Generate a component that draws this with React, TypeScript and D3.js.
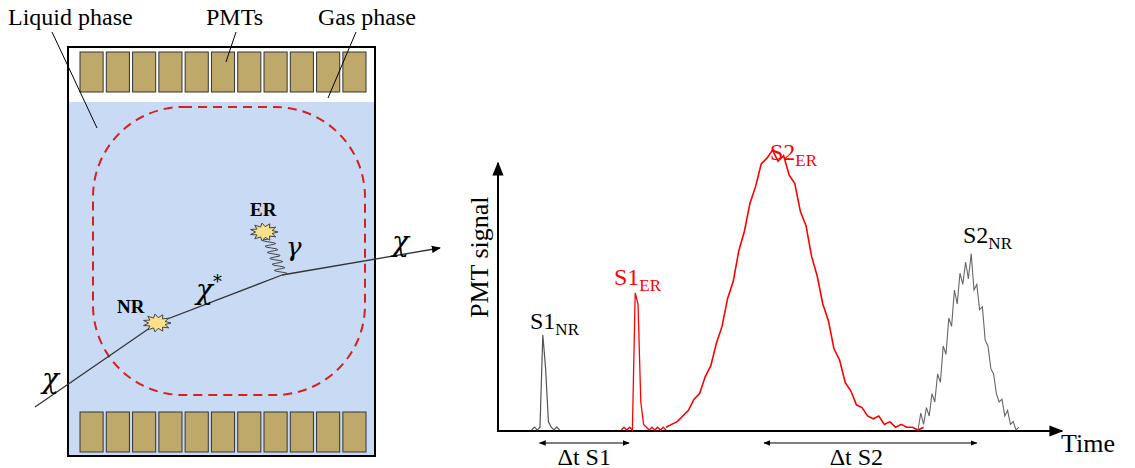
import * as d3 from "d3";
import React from "react";

// signal traces: values sampled every STEP (or STEP/2) time units from the given start time
const STEP = 1;
const s1nrStart = 6;
const s1nrValues = [0.0, 0.01, 0.0, 0.01, 0.34, 0.22, 0.03, 0.01, 0.0, 0.01, 0.0];
const s1erStart = 22;
const s1erValues = [0.0, 0.01, 0.0, 0.01, 0.0, 0.49, 0.45, 0.1, 0.02, 0.01, 0.0, 0.01, 0.0, 0.01, 0.0, 0.01, 0.0];
const s2erStart = 30;
const s2erValues = [
  0.01, 0.02, 0.03, 0.05, 0.07, 0.11, 0.13, 0.19, 0.23, 0.31, 0.37, 0.47, 0.53, 0.64, 0.71, 0.81,
  0.87, 0.95, 0.97, 1.0, 0.96, 0.98, 0.91, 0.88, 0.78, 0.73, 0.62, 0.55, 0.45, 0.39, 0.29, 0.25,
  0.17, 0.14, 0.09, 0.08, 0.05, 0.04, 0.05, 0.02, 0.03, 0.01, 0.02, 0.01, 0.01, 0.0, 0.01,
];
const s2nrStart = 75;
const s2nrValues = [
  0.0, 0.06, 0.02, 0.08, 0.05, 0.13, 0.1, 0.2, 0.17, 0.3, 0.27, 0.4, 0.37, 0.5, 0.45, 0.56, 0.52,
  0.6, 0.54, 0.63, 0.5, 0.52, 0.43, 0.44, 0.32, 0.3, 0.22, 0.2, 0.13, 0.1, 0.11, 0.05, 0.07, 0.02,
  0.03, 0.0, 0.01,
];
const pmtCount = 11;

const serif = "'Liberation Serif', 'DejaVu Serif', serif";
const greek = "'DejaVu Serif', serif";

function trace(start: number, values: number[], step = STEP) {
  return values.map((v, i) => [start + i * step, v] as [number, number]);
}

function star(cx: number, cy: number, rx: number, ry: number) {
  const pts: [number, number][] = [];
  const n = 22;
  for (let i = 0; i < n; i++) {
    const a = (i / n) * Math.PI * 2;
    const r = i % 2 === 0 ? 1 : 0.6;
    pts.push([cx + Math.cos(a) * rx * r, cy + Math.sin(a) * ry * r]);
  }
  return "M" + pts.map((p) => p.join(",")).join("L") + "Z";
}

export default function App() {
  const x = d3.scaleLinear().domain([0, 100]).range([498, 1058]);
  const y = d3.scaleLinear().domain([0, 1]).range([430, 150]);
  const line = d3
    .line<[number, number]>()
    .x((d) => x(d[0]))
    .y((d) => y(d[1]));

  const pmtX = d3.scaleBand<number>().domain(d3.range(pmtCount)).range([80, 366]).paddingInner(0.12);

  // wiggle for gamma
  const wig: [number, number][] = [];
  for (let i = 0; i <= 40; i++) {
    const t = i / 40;
    wig.push([282 - 14 * t + Math.sin(t * Math.PI * 12) * 6, 275 - 36 * t]);
  }

  return (
    <svg width={1135} height={468} style={{ position: "absolute", left: 0, top: 0 }} fontFamily={serif}>
      <defs>
        <marker id="ah" viewBox="0 0 10 10" refX="9" refY="5" markerWidth="7" markerHeight="7" orient="auto-start-reverse">
          <path d="M0,1L10,5L0,9Z" fill="#000" />
        </marker>
      </defs>
      {/* detector */}
      <rect x={68} y={102} width={307} height={354} fill="#c9daf5" />
      <rect x={68} y={47} width={307} height={409} fill="none" stroke="#000" strokeWidth={2} />
      {d3.range(pmtCount).map((i) => (
        <g key={i}>
          <rect x={pmtX(i)} y={52} width={pmtX.bandwidth()} height={40} fill="#bfa96a" stroke="#333" />
          <rect x={pmtX(i)} y={412} width={pmtX.bandwidth()} height={40} fill="#bfa96a" stroke="#333" />
        </g>
      ))}
      <rect x={93} y={107} width={272} height={288} rx={90} fill="none" stroke="#d42020" strokeWidth={2} strokeDasharray="9,6" />
      <text x={8} y={25} fontSize={24}>Liquid phase</text>
      <text x={206} y={25} fontSize={24}>PMTs</text>
      <text x={318} y={25} fontSize={24}>Gas phase</text>
      <line x1={52} y1={32} x2={97} y2={128} stroke="#000" />
      <line x1={236} y1={32} x2={226} y2={62} stroke="#000" />
      <line x1={356} y1={32} x2={328} y2={98} stroke="#000" />
      <polyline points="35,407 157,323 282,275" fill="none" stroke="#333" strokeWidth={1.3} />
      <line x1={282} y1={275} x2={440} y2={248} stroke="#333" strokeWidth={1.3} markerEnd="url(#ah)" />
      <path d={d3.line()(wig) ?? ""} fill="none" stroke="#444" />
      <path d={star(157, 323, 14, 9)} fill="#fbe08a" stroke="#444" />
      <path d={star(264, 232, 14, 9)} fill="#fbe08a" stroke="#444" />
      <text x={117} y={313} fontSize={19} fontWeight="bold">NR</text>
      <text x={250} y={216} fontSize={19} fontWeight="bold">ER</text>
      <text x={42} y={388} fontSize={28} fontStyle="italic" fontFamily={greek}>χ</text>
      <text x={196} y={299} fontSize={28} fontStyle="italic" fontFamily={greek}>χ<tspan dy={-11} fontSize={18} fontStyle="normal">*</tspan></text>
      <text x={392} y={251} fontSize={28} fontStyle="italic" fontFamily={greek}>χ</text>
      <text x={286} y={256} fontSize={26} fontStyle="italic" fontFamily={greek}>γ</text>

      {/* signal plot */}
      <line x1={498} y1={431} x2={498} y2={163} stroke="#000" strokeWidth={2} markerEnd="url(#ah)" />
      <line x1={497} y1={431} x2={1062} y2={431} stroke="#000" strokeWidth={2} markerEnd="url(#ah)" />
      <text transform="translate(488,318) rotate(-90)" fontSize={26}>PMT signal</text>
      <text x={1061} y={452} fontSize={26}>Time</text>
      <path d={line(trace(s1nrStart, s1nrValues, STEP / 2)) ?? ""} fill="none" stroke="#555" strokeWidth={1.2} />
      <path d={line(trace(s1erStart, s1erValues, STEP / 2)) ?? ""} fill="none" stroke="#f00" strokeWidth={1.3} />
      <path d={line(trace(s2erStart, s2erValues)) ?? ""} fill="none" stroke="#f00" strokeWidth={1.6} />
      <path d={line(trace(s2nrStart, s2nrValues, STEP / 2)) ?? ""} fill="none" stroke="#666" strokeWidth={1.1} />
      <text x={530} y={329} fontSize={24}>S1<tspan dy={6} fontSize={17}>NR</tspan></text>
      <text x={614} y={285} fontSize={24} fill="#f00">S1<tspan dy={6} fontSize={17}>ER</tspan></text>
      <text x={770} y={160} fontSize={24} fill="#f00">S2<tspan dy={6} fontSize={17}>ER</tspan></text>
      <text x={963} y={243} fontSize={24}>S2<tspan dy={6} fontSize={17}>NR</tspan></text>
      <line x1={x(7.4)} y1={443} x2={x(23.4)} y2={443} stroke="#000" markerStart="url(#ah)" markerEnd="url(#ah)" />
      <line x1={x(47.5)} y1={443} x2={x(85.5)} y2={443} stroke="#000" markerStart="url(#ah)" markerEnd="url(#ah)" />
      <text x={x(15.4)} y={465} fontSize={24} textAnchor="middle">Δt S1</text>
      <text x={x(64)} y={465} fontSize={24} textAnchor="middle">Δt S2</text>
    </svg>
  );
}
